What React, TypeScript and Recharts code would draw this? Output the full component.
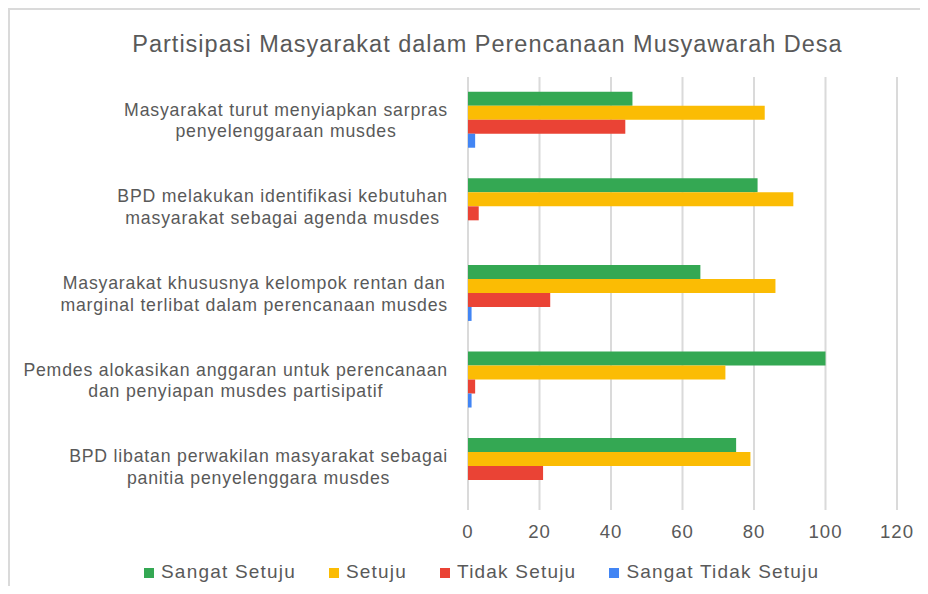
import React from "react";
import { BarChart, Bar, XAxis, YAxis, CartesianGrid } from "recharts";

// values
const CATEGORIES = [
  "Masyarakat turut menyiapkan sarpras\npenyelenggaraan musdes",
  "BPD melakukan identifikasi kebutuhan\nmasyarakat sebagai agenda musdes",
  "Masyarakat khususnya kelompok rentan dan\nmarginal terlibat dalam perencanaan musdes",
  "Pemdes alokasikan anggaran untuk perencanaan\ndan penyiapan musdes partisipatif",
  "BPD libatan perwakilan masyarakat sebagai\npanitia penyelenggara musdes",
];
const SANGAT_SETUJU = [46, 81, 65, 100, 75];
const SETUJU = [83, 91, 86, 72, 79];
const TIDAK_SETUJU = [44, 3, 23, 2, 21];
const SANGAT_TIDAK_SETUJU = [2, 0, 1, 1, 0];
const X_TICKS = [0, 20, 40, 60, 80, 100, 120];

const SERIES = [
  { key: "sangatSetuju", name: "Sangat Setuju", color: "#34A853" },
  { key: "setuju", name: "Setuju", color: "#FBBC04" },
  { key: "tidakSetuju", name: "Tidak Setuju", color: "#EA4335" },
  { key: "sangatTidakSetuju", name: "Sangat Tidak Setuju", color: "#4285F4" },
];

const data = CATEGORIES.map((name, i) => ({
  name,
  sangatSetuju: SANGAT_SETUJU[i],
  setuju: SETUJU[i],
  tidakSetuju: TIDAK_SETUJU[i],
  sangatTidakSetuju: SANGAT_TIDAK_SETUJU[i],
}));

const FONT = '"Liberation Sans", Arial, sans-serif';
const TEXT = "#595959";
const GRID = "#dadada";

const LABEL_SIZE = 17.7;
const LABEL_LS = 0.8;
const LABEL_LINE = 21.5;

let ctx: CanvasRenderingContext2D | null = null;
function textWidth(s: string) {
  if (!ctx) ctx = document.createElement("canvas").getContext("2d");
  if (!ctx) return s.length * LABEL_SIZE * 0.5;
  ctx.font = `${LABEL_SIZE}px "Liberation Sans"`;
  return ctx.measureText(s).width + s.length * LABEL_LS;
}

// category label: lines centred on each other, longest line flush right
function CategoryTick({ x, y, payload }: { x: number; y: number; payload: { value: string } }) {
  const lines = String(payload.value).split("\n");
  const w = Math.max(...lines.map(textWidth));
  const cx = x - w / 2;
  const cap = LABEL_SIZE * 0.716;
  return (
    <text
      textAnchor="middle"
      fill={TEXT}
      fontSize={LABEL_SIZE}
      fontFamily={FONT}
      letterSpacing={LABEL_LS}
    >
      {lines.map((l, i) => (
        <tspan key={i} x={cx} y={y + (i - (lines.length - 1) / 2) * LABEL_LINE + cap / 2}>
          {l}
        </tspan>
      ))}
    </text>
  );
}

export default function App() {
  return (
    <div
      style={{
        position: "relative",
        width: 920,
        height: 578,
        boxSizing: "border-box",
        borderTop: `2px solid ${GRID}`,
        borderLeft: `2px solid ${GRID}`,
        fontFamily: FONT,
        overflow: "hidden",
      }}
    >
      <style>{"html, body { overflow: hidden; }"}</style>
      <div
        style={{
          position: "absolute",
          top: 23.4,
          left: 477.5,
          transform: "translateX(-50%)",
          whiteSpace: "nowrap",
          fontSize: 23.5,
          lineHeight: 1,
          letterSpacing: 1,
          color: TEXT,
        }}
      >
        Partisipasi Masyarakat dalam Perencanaan Musyawarah Desa
      </div>

      <div style={{ position: "absolute", left: 0, top: 0 }}>
        <BarChart
          width={910}
          height={540}
          data={data}
          layout="vertical"
          margin={{ top: 67, right: 23, left: 0, bottom: 0 }}
          barCategoryGap="17%"
          barGap={0}
        >
          <CartesianGrid horizontal={false} stroke={GRID} strokeWidth={2} />
          <XAxis
            type="number"
            domain={[0, 120]}
            ticks={X_TICKS}
            axisLine={false}
            tickLine={false}
            tickMargin={9}
            height={40}
            tick={{ fill: TEXT, fontSize: 18.6, fontFamily: FONT, letterSpacing: 1 }}
          />
          <YAxis
            type="category"
            dataKey="name"
            width={458}
            axisLine={false}
            tickLine={false}
            tickMargin={14}
            interval={0}
            tick={(p: any) => <CategoryTick {...p} />}
          />
          {SERIES.map((s) => (
            <Bar key={s.key} dataKey={s.key} name={s.name} fill={s.color} isAnimationActive={false} />
          ))}
        </BarChart>
      </div>

      <div
        style={{
          position: "absolute",
          top: 551.6,
          left: 134,
          display: "flex",
          alignItems: "baseline",
          gap: 33,
          fontSize: 19,
          lineHeight: 1,
          letterSpacing: 1.2,
          color: TEXT,
          whiteSpace: "nowrap",
        }}
      >
        {SERIES.map((s) => (
          <div key={s.key} style={{ display: "flex", alignItems: "baseline" }}>
            <span
              style={{
                display: "inline-block",
                width: 10,
                height: 10,
                background: s.color,
                marginRight: 7,
              }}
            />
            <span>{s.name}</span>
          </div>
        ))}
      </div>
    </div>
  );
}
